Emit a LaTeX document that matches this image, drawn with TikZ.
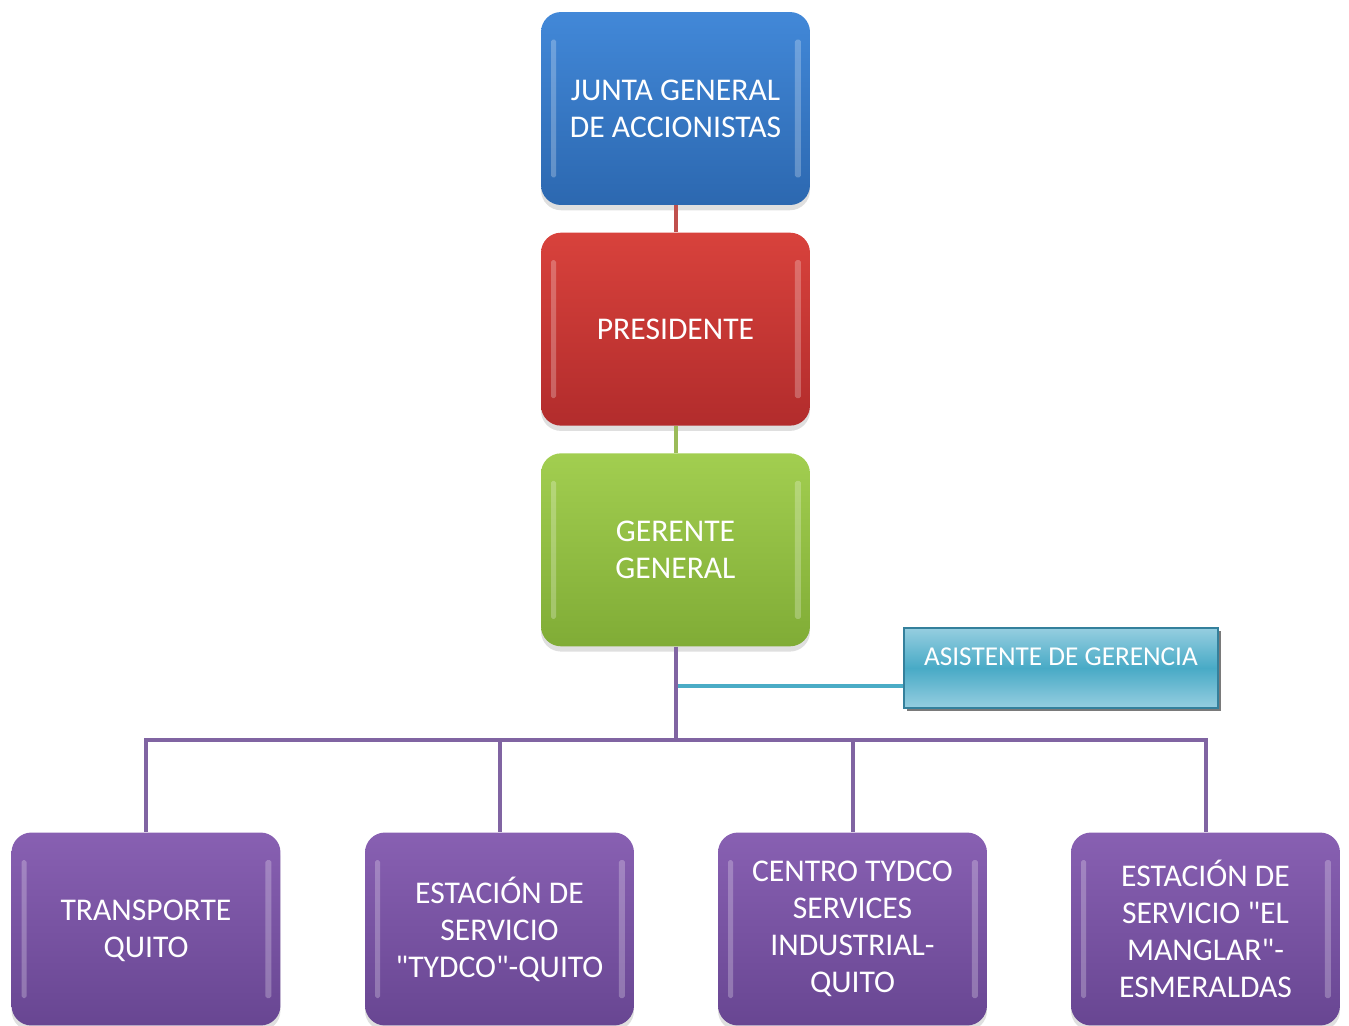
\documentclass[tikz,border=0pt]{standalone}
\usepackage{fontspec}
\setmainfont{Carlito}
\usetikzlibrary{positioning}
\usetikzlibrary{shadows}
\definecolor{junta-top}{RGB}{66,136,216}
\definecolor{junta-bottom}{RGB}{44,104,176}
\definecolor{pres-top}{RGB}{216,66,60}
\definecolor{pres-bottom}{RGB}{178,44,44}
\definecolor{ger-top}{RGB}{162,206,80}
\definecolor{ger-bottom}{RGB}{128,172,54}
\definecolor{dep-top}{RGB}{136,96,178}
\definecolor{dep-bottom}{RGB}{104,70,146}
\definecolor{asis-mid}{RGB}{72,170,198}
\definecolor{asis-light}{RGB}{150,206,224}
\definecolor{asis-border}{RGB}{52,128,156}
\definecolor{line-red}{RGB}{192,80,77}
\definecolor{line-green}{RGB}{155,187,89}
\definecolor{line-purple}{RGB}{128,100,162}
\definecolor{line-cyan}{RGB}{75,172,198}

\begin{document}
\begin{tikzpicture}[x=0.02cm, y=-0.02cm, node distance=0.54cm, >=latex,
box/.style={rounded corners=0.4cm, minimum width=5.38cm, minimum height=3.86cm, align=center, text=white, inner sep=2pt,
 font=\fontsize{18}{21}\selectfont, drop shadow={shadow xshift=0pt, shadow yshift=-3pt, opacity=0.25},
 path picture={
  \fill[white,opacity=0.25,rounded corners=1pt] ([xshift=0.2cm,yshift=-0.55cm]path picture bounding box.north west) rectangle ([xshift=0.3cm,yshift=0.55cm]path picture bounding box.south west);
  \fill[white,opacity=0.25,rounded corners=1pt] ([xshift=-0.3cm,yshift=-0.55cm]path picture bounding box.north east) rectangle ([xshift=-0.18cm,yshift=0.55cm]path picture bounding box.south east);
 }},
dep/.style={box, top color=dep-top, bottom color=dep-bottom},
link/.style={line width=0.08cm}]

\useasboundingbox (0,0) rectangle (1349,1025);

% top of the chart
\node [box, top color=junta-top, bottom color=junta-bottom] (junta) at (675.5,108.5) {JUNTA GENERAL\\DE ACCIONISTAS};
\node [box, top color=pres-top, bottom color=pres-bottom, below = of junta] (pres) {PRESIDENTE};
\node [box, top color=ger-top, bottom color=ger-bottom, below = of pres] (gerente) {GERENTE\\GENERAL};

% staff position
\node [minimum width=6.28cm, minimum height=1.6cm, text depth=0.44cm, text=white, draw=asis-border, thick,
 top color=asis-light, bottom color=asis-light, middle color=asis-mid,
 font=\fontsize{15.5}{18}\selectfont,
 drop shadow={shadow xshift=1.5pt, shadow yshift=-1.5pt, fill=black!65, opacity=0.8}] (asis) at (1061,668) {ASISTENTE DE GERENCIA};

% departments
\node [dep, text depth=-0.1cm] (transporte) at (146,929) {TRANSPORTE\\QUITO};
\node [dep] (estquito) at (499.5,929) {ESTACIÓN DE\\SERVICIO\\\textquotedbl TYDCO\textquotedbl-QUITO};
\node [dep] (centro) at (852.5,929) {CENTRO TYDCO\\SERVICES\\INDUSTRIAL-\\QUITO};
\node [dep] (estmanglar) at (1205.5,929) {ESTACIÓN DE\\SERVICIO \textquotedbl EL\\MANGLAR\textquotedbl-\\ESMERALDAS};

% links between levels
\draw [link, line-red] (junta.south) -- (pres.north);
\draw [link, line-green] (pres.south) -- (gerente.north);

% link to the assistant
\draw [link, line-cyan] (gerente.south |- 0,686) -- (asis.west |- 0,686);

% bus to the departments
\coordinate (bus) at (675.5,740);
\draw [link, line-purple] (gerente.south) -- (bus);
\draw [link, line-purple] (bus) -| (transporte.north);
\draw [link, line-purple] (bus) -| (estquito.north);
\draw [link, line-purple] (bus) -| (centro.north);
\draw [link, line-purple] (bus) -| (estmanglar.north);

\end{tikzpicture}
\end{document}
